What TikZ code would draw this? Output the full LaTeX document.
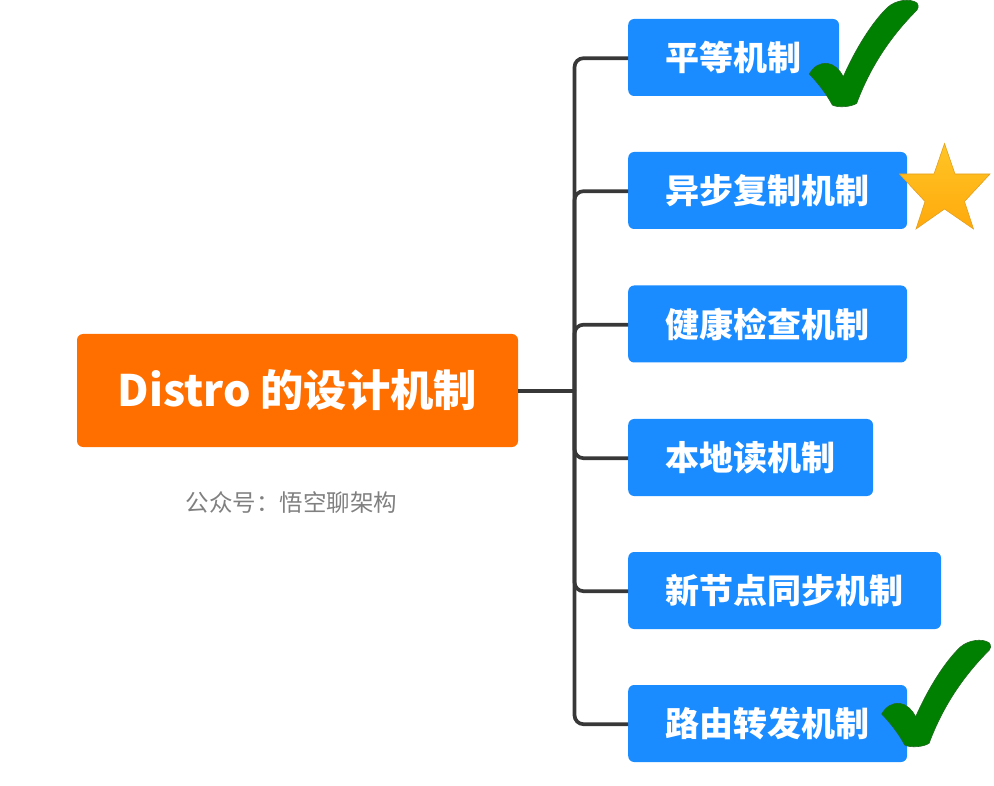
\documentclass[tikz,border=0pt]{standalone}
\usepackage{fontspec}
\setmainfont{Noto Sans CJK SC}
\definecolor{rootorange}{HTML}{FF6F00}
\definecolor{leafblue}{HTML}{1A8CFF}
\definecolor{linegray}{HTML}{383838}
\definecolor{notegray}{HTML}{808080}
\definecolor{tickgreen}{HTML}{008000}
\definecolor{tickedge}{HTML}{1F6B1F}
\definecolor{starhigh}{HTML}{FFC525}
\definecolor{starlow}{HTML}{FFA90C}
\definecolor{staredge}{HTML}{E3A020}
\tikzset{
  rootbox/.style={fill=rootorange, rounded corners=6, text=white, font=\fontsize{43.3}{50}\selectfont\bfseries,
    minimum width=441, minimum height=113, inner sep=0},
  leafbox/.style={fill=leafblue, rounded corners=6, text=white, font=\fontsize{34}{40}\selectfont\bfseries,
    anchor=west, minimum height=77, inner xsep=37.4, inner ysep=0},
  notetext/.style={text=notegray, font=\fontsize{23.5}{28}\selectfont, inner sep=0},
  branch/.style={draw=linegray, line width=3.7, rounded corners=9},
  pics/tickmark/.style={code={
    \draw[fill=tickgreen, draw=tickedge, line width=0.6]
      (809.3,74) .. controls (814,66) and (820,63) .. (827,63.3)
      .. controls (834,64) and (840,70) .. (843.3,76.7)
      .. controls (855,50) and (872,22) .. (888,7)
      .. controls (896,0) and (910,-2) .. (917,3)
      .. controls (919,6) and (918,9) .. (917,10)
      .. controls (895,32) and (872,62) .. (856.7,103.3)
      .. controls (851,107) and (838,108) .. (832.3,105)
      .. controls (826,93) and (817,82) .. (809.3,74) -- cycle;
  }}
}
\begin{document}
\begin{tikzpicture}[x=1pt, y=-1pt]
        \useasboundingbox (0,0) rectangle (994,786);
        % root and its note
        \node[rootbox] (root) at (297.5,390.5) {Distro 的设计机制};
        \node[notetext] (note) at (291.3,503) {公众号：悟空聊架构};
        % leaves
        \node[leafbox] (equal)  at (628,57.5)  {平等机制};
        \node[leafbox] (async)  at (628,190.5) {异步复制机制};
        \node[leafbox] (health) at (628,324)   {健康检查机制};
        \node[leafbox] (local)  at (628,457.5) {本地读机制};
        \node[leafbox] (sync)   at (628,590.5) {新节点同步机制};
        \node[leafbox] (route)  at (628,723.5) {路由转发机制};
        % connectors
        \coordinate (trunk) at (574.5,391);
        \draw[branch] ([yshift=-0.5pt]root.east) -- (trunk);
        \foreach \leaf in {equal,async,health,local,sync,route}
          \draw[branch] (trunk) |- ([yshift=-0.7pt]\leaf.west);
        % marks
        \pic {tickmark};
        \pic at (72.4,640) {tickmark};
        \draw[top color=starhigh, bottom color=starlow, draw=staredge, line width=0.6]
          (944.5,143.5) -- (955,174) -- (990,174) -- (964.5,201.5) -- (973.5,229)
          -- (944.5,209) -- (916,229) -- (925,201.5) -- (899.5,174) -- (934,174) -- cycle;
\end{tikzpicture}
\end{document}
